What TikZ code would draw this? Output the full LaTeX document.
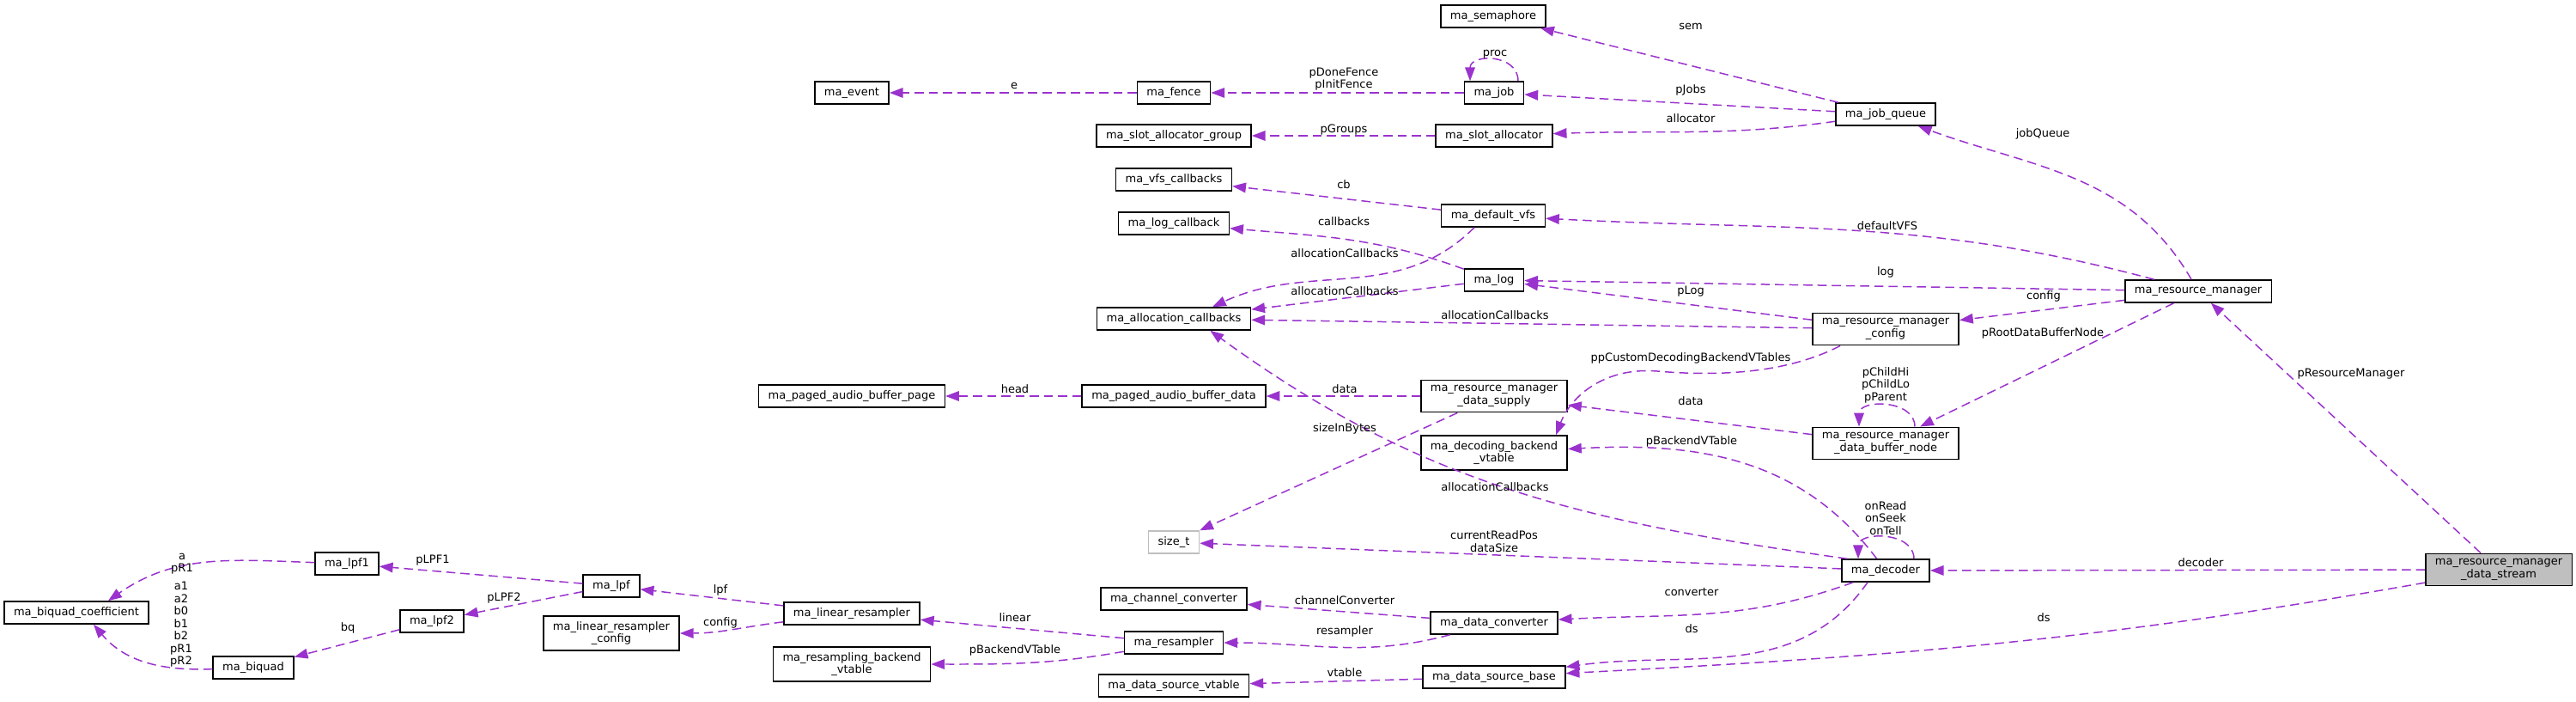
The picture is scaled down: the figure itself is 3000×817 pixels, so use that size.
\documentclass[tikz,border=0pt]{standalone}
\usepackage{fontspec}
\setmainfont{DejaVu Sans}
\usepackage{xcolor}
\usetikzlibrary{arrows.meta}
\definecolor{edgecol}{HTML}{9A32CD}
\definecolor{boxgray}{HTML}{BFBFBF}
\tikzset{
cls/.style={draw=black, line width=0.85pt, inner xsep=6.3pt, inner ysep=3.6pt, minimum height=14.8pt, align=center},
ptr/.style={draw=edgecol, line width=0.85pt, dash pattern=on 6pt off 3.4pt, -{Triangle[length=9pt,width=6.6pt]}},
lbl/.style={inner sep=0pt, align=center}
}

\begin{document}
\begin{tikzpicture}[x=0.02cm, y=0.02cm, font=\fontsize{7.4}{8.25}\selectfont]
\useasboundingbox (0,0) rectangle (3000,-817);
\node[cls, fill=boxgray] (stream) at (2910,-663) {ma\_resource\_manager\\\_data\_stream};
\node[cls] (rm) at (2560,-339) {ma\_resource\_manager};
\node[cls] (jobq) at (2196,-133) {ma\_job\_queue};
\node[cls] (rmcfg) at (2196,-383) {ma\_resource\_manager\\\_config};
\node[cls] (bufnode) at (2196,-516) {ma\_resource\_manager\\\_data\_buffer\_node};
\node[cls] (decoder) at (2196,-664) {ma\_decoder};
\node[cls] (sema) at (1739,-19) {ma\_semaphore};
\node[cls] (job) at (1740,-108) {ma\_job};
\node[cls] (slotalloc) at (1740,-158) {ma\_slot\_allocator};
\node[cls] (dvfs) at (1739,-251) {ma\_default\_vfs};
\node[cls] (log) at (1740,-326) {ma\_log};
\node[cls] (supply) at (1740,-461) {ma\_resource\_manager\\\_data\_supply};
\node[cls] (dbvt) at (1740,-527) {ma\_decoding\_backend\\\_vtable};
\node[cls] (dconv) at (1740,-725) {ma\_data\_converter};
\node[cls] (dsbase) at (1740,-788) {ma\_data\_source\_base};
\node[cls] (fence) at (1367,-108) {ma\_fence};
\node[cls] (slotgrp) at (1367,-158) {ma\_slot\_allocator\_group};
\node[cls] (vfscb) at (1367,-209) {ma\_vfs\_callbacks};
\node[cls] (logcb) at (1367,-260) {ma\_log\_callback};
\node[cls] (alloccb) at (1367,-371) {ma\_allocation\_callbacks};
\node[cls] (pgdata) at (1367,-461) {ma\_paged\_audio\_buffer\_data};
\node[cls, draw=boxgray] (sizet) at (1367,-631) {size\_t};
\node[cls] (chconv) at (1367,-697) {ma\_channel\_converter};
\node[cls] (resampler) at (1367,-748) {ma\_resampler};
\node[cls] (dsvt) at (1367,-798) {ma\_data\_source\_vtable};
\node[cls] (event) at (992,-108) {ma\_event};
\node[cls] (pgpage) at (992,-461) {ma\_paged\_audio\_buffer\_page};
\node[cls] (linres) at (992,-714) {ma\_linear\_resampler};
\node[cls] (rbvt) at (992,-773) {ma\_resampling\_backend\\\_vtable};
\node[cls] (lpf) at (712,-682) {ma\_lpf};
\node[cls] (linrescfg) at (712,-737) {ma\_linear\_resampler\\\_config};
\node[cls] (lpfone) at (404,-656) {ma\_lpf1};
\node[cls] (lpftwo) at (503,-723) {ma\_lpf2};
\node[cls] (biquad) at (295,-777) {ma\_biquad};
\node[cls] (coeff) at (89,-713) {ma\_biquad\_coefficient};

\draw[ptr] (jobq) -- (sema);
\draw[ptr] (jobq) -- (job);
\draw[ptr] (jobq) to[out=188,in=2] (slotalloc);
\draw[ptr] (rm) to[out=120,in=-20] (jobq);
\draw[ptr] (rm) to[out=165,in=-3] (dvfs);
\draw[ptr] (rm) -- (log);
\draw[ptr] (rm) -- (rmcfg);
\draw[ptr] (rm) -- (bufnode);
\draw[ptr] (stream) -- (rm);
\draw[ptr] (stream) -- (decoder);
\draw[ptr] (stream) to[out=190,in=3] (dsbase);
\draw[ptr] ([xshift=0.66cm]decoder.north) .. controls +(0,32) and +(0,32) .. ([xshift=-0.64cm]decoder.north);
\draw[ptr] (decoder) to[out=127,in=3] (dbvt);
\draw[ptr] (decoder.163) to[out=172,in=-36] (alloccb.-18);
\draw[ptr] (decoder) -- (sizet);
\draw[ptr] (decoder) to[out=200,in=3] (dconv);
\draw[ptr] ([xshift=-0.42cm]decoder.south) to[out=235,in=8] (dsbase);
\draw[ptr] ([xshift=0.68cm]bufnode.north) .. controls +(0,32) and +(0,32) .. ([xshift=-0.62cm]bufnode.north);
\draw[ptr] (bufnode) -- (supply);
\draw[ptr] ([xshift=-1.06cm]rmcfg.south) .. controls (2080,-435) and (2000,-438) .. (1930,-432) .. controls (1870,-427) and (1830,-460) .. ([xshift=-0.28cm]dbvt.north east);
\draw[ptr] (rmcfg) -- (log);
\draw[ptr] (rmcfg) -- (alloccb);
\draw[ptr] (log) -- (alloccb);
\draw[ptr] (log) to[out=160,in=-5] (logcb);
\draw[ptr] (dvfs) -- (vfscb);
\draw[ptr] ([xshift=-0.44cm]dvfs.south) to[out=225,in=25] ([xshift=0.9cm]alloccb.north);
\draw[ptr] (supply) -- (pgdata);
\draw[ptr] (pgdata) -- (pgpage);
\draw[ptr] (supply) -- (sizet);
\draw[ptr] (dconv) -- (chconv);
\draw[ptr] (dconv) to[out=195,in=0] (resampler);
\draw[ptr] (resampler) -- (linres);
\draw[ptr] (resampler) to[out=190,in=0] (rbvt);
\draw[ptr] (dsbase) -- (dsvt);
\draw[ptr] (linres) -- (lpf);
\draw[ptr] (linres) to[out=187,in=0] (linrescfg);
\draw[ptr] (lpf) -- (lpfone);
\draw[ptr] (lpf) -- (lpftwo);
\draw[ptr] (lpftwo) -- (biquad);
\draw[ptr] (lpfone) to[out=178,in=35] ([xshift=0.74cm]coeff.north);
\draw[ptr] (biquad) to[out=182,in=-50] ([xshift=0.4cm]coeff.south);
\draw[ptr] (job) -- (fence);
\draw[ptr] (fence) -- (event);
\draw[ptr] (slotalloc) -- (slotgrp);
\draw[ptr] ([xshift=0.56cm]job.north) .. controls +(0,32) and +(0,32) .. ([xshift=-0.56cm]job.north);

\node[lbl] (lsem) at (1969,-31) {sem};
\node[lbl] (lpjobs) at (1969,-105) {pJobs};
\node[lbl] (lallocator) at (1969,-138) {allocator};
\node[lbl] (ljobqueue) at (2379,-156) {jobQueue};
\node[lbl] (lproc) at (1741,-63) {proc};
\node[lbl] (lfence) at (1565,-92) {pDoneFence\\pInitFence};
\node[lbl] (le) at (1181,-100) {e};
\node[lbl] (lpgroups) at (1565,-151) {pGroups};
\node[lbl] (lcb) at (1565,-215) {cb};
\node[lbl] (lcallbacks) at (1565,-258) {callbacks};
\node[lbl] (ldefvfs) at (2198,-263) {defaultVFS};
\node[lbl] (llog) at (2196,-317) {log};
\node[lbl] (lalloca) at (1566,-295) {allocationCallbacks};
\node[lbl] (lallocb) at (1566,-339) {allocationCallbacks};
\node[lbl] (lallocc) at (1741,-367) {allocationCallbacks};
\node[lbl] (lplog) at (1969,-339) {pLog};
\node[lbl] (lconfig) at (2380,-345) {config};
\node[lbl] (lroot) at (2379,-388) {pRootDataBufferNode};
\node[lbl] (lcustom) at (1969,-417) {ppCustomDecodingBackendVTables};
\node[lbl] (lchild) at (2196,-448) {pChildHi\\pChildLo\\pParent};
\node[lbl] (ldatab) at (1969,-467) {data};
\node[lbl] (ldataa) at (1566,-453) {data};
\node[lbl] (lhead) at (1182,-453) {head};
\node[lbl] (lsize) at (1566,-499) {sizeInBytes};
\node[lbl] (lbackenda) at (1970,-514) {pBackendVTable};
\node[lbl] (lrm) at (2738,-435) {pResourceManager};
\node[lbl] (lallocd) at (1741,-567) {allocationCallbacks};
\node[lbl] (lonread) at (2196,-603) {onRead\\onSeek\\onTell};
\node[lbl] (lreadpos) at (1740,-630) {currentReadPos\\dataSize};
\node[lbl] (ldecoder) at (2563,-655) {decoder};
\node[lbl] (lconverter) at (1970,-689) {converter};
\node[lbl] (lchconv) at (1566,-699) {channelConverter};
\node[lbl] (ldsa) at (1970,-732) {ds};
\node[lbl] (ldsb) at (2380,-719) {ds};
\node[lbl] (lresampler) at (1566,-735) {resampler};
\node[lbl] (lvtable) at (1566,-783) {vtable};
\node[lbl] (llinear) at (1182,-719) {linear};
\node[lbl] (lbackendb) at (1182,-757) {pBackendVTable};
\node[lbl] (llpf) at (839,-687) {lpf};
\node[lbl] (lconfigb) at (839,-725) {config};
\node[lbl] (lpfonel) at (504,-652) {pLPF1};
\node[lbl] (lpftwol) at (587,-696) {pLPF2};
\node[lbl] (lbq) at (405,-731) {bq};
\node[lbl] (la) at (212,-656) {a\\pR1};
\node[lbl] (lcoef) at (211,-727) {a1\\a2\\b0\\b1\\b2\\pR1\\pR2};
\end{tikzpicture}
\end{document}
